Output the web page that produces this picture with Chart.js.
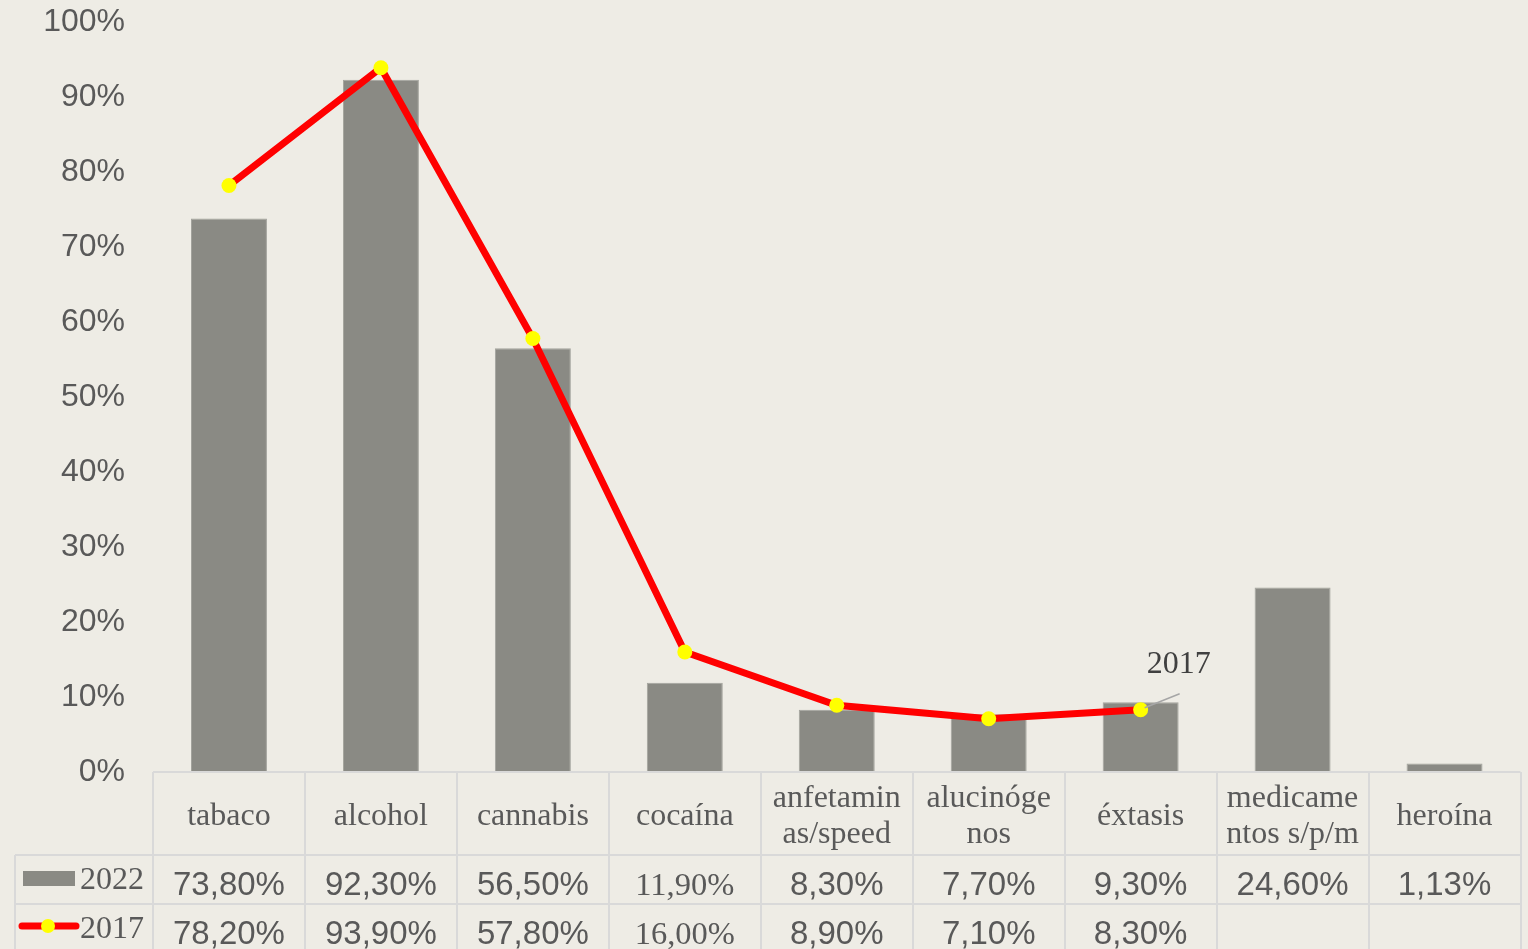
<!DOCTYPE html>
<html><head><meta charset="utf-8">
<script src="https://cdn.jsdelivr.net/npm/chart.js@4/dist/chart.umd.min.js"></script>
<style>html,body{margin:0;padding:0;background:#EEECE5;overflow:hidden}#wrap{width:1528px;height:949px}</style>
</head><body><div id="wrap"><canvas id="c" width="1528" height="949"></canvas></div>
<script>
const categories = [["tabaco"],["alcohol"],["cannabis"],["cocaína"],["anfetamin","as/speed"],["alucinóge","nos"],["éxtasis"],["medicame","ntos s/p/m"],["heroína"]];
const values2022 = [73.8, 92.3, 56.5, 11.9, 8.3, 7.7, 9.3, 24.6, 1.13];
const values2017 = [78.2, 93.9, 57.8, 16.0, 8.9, 7.1, 8.3, null, null];
const seriesNames = ["2022", "2017"];
const serifColumns = [3];           // columns whose table values appear in a serif face
const labelledPoint = 6;            // 2017 point that carries the series-name label
const yMin = 0, yMax = 100, yStep = 10;

const BG = '#EEECE5', TXT = '#595959', GRID = '#D9D9D9';
const SANS = '"Liberation Sans", Arial, sans-serif';
const SERIF = '"Liberation Serif", "Times New Roman", serif';

function fmt(v){ return v == null ? '' : v.toFixed(2).replace('.', ',') + '%'; }

const tablePlugin = {
  id: 'tablePlugin',
  beforeDraw(chart){
    const ctx = chart.ctx;
    ctx.save(); ctx.fillStyle = BG; ctx.fillRect(0,0,chart.width,chart.height); ctx.restore();
  },
  afterDraw(chart){
    const ctx = chart.ctx, xs = chart.scales.x, ca = chart.chartArea;
    const n = categories.length;
    const cw = (ca.right - ca.left) / n;
    const yTop = ca.bottom, y1 = yTop + 83, y2 = y1 + 49, yEnd = chart.height;
    const leftEdge = 15;
    ctx.save();
    ctx.strokeStyle = GRID; ctx.lineWidth = 2;
    ctx.beginPath();
    ctx.moveTo(ca.left, yTop); ctx.lineTo(ca.right, yTop);
    ctx.moveTo(leftEdge, y1); ctx.lineTo(ca.right, y1);
    ctx.moveTo(leftEdge, y2); ctx.lineTo(ca.right, y2);
    for (let i = 0; i <= n; i++) {
      const x = Math.round(ca.left + i * cw);
      ctx.moveTo(x, yTop); ctx.lineTo(x, yEnd);
    }
    ctx.moveTo(leftEdge, y1); ctx.lineTo(leftEdge, yEnd);
    ctx.stroke();

    // legend keys
    ctx.fillStyle = '#8A8A84';
    ctx.fillRect(23, 871, 52, 15);
    ctx.strokeStyle = '#FF0000'; ctx.lineWidth = 7; ctx.lineCap = 'round';
    ctx.beginPath(); ctx.moveTo(22, 926); ctx.lineTo(76, 926); ctx.stroke();
    ctx.fillStyle = '#FFFF00'; ctx.beginPath(); ctx.arc(48, 926, 7, 0, Math.PI*2); ctx.fill();
    ctx.fillStyle = TXT; ctx.textBaseline = 'middle'; ctx.textAlign = 'left';
    ctx.font = '32px ' + SERIF;
    ctx.fillText(seriesNames[0], 80, 881);
    ctx.fillText(seriesNames[1], 80, 930);

    // values
    ctx.textAlign = 'center';
    const rows = [[values2022, 886], [values2017, 935]];
    rows.forEach(([arr, ty]) => {
      arr.forEach((v, i) => {
        const x = xs.getPixelForValue(i);
        ctx.font = serifColumns.includes(i) ? '32.5px ' + SERIF : '33px ' + SANS;
        ctx.fillText(fmt(v), x, ty);
      });
    });

    // series label on line point
    const meta = chart.getDatasetMeta(0);
    const pt = meta.data[labelledPoint];
    if (pt) {
      ctx.strokeStyle = '#A6A6A6'; ctx.lineWidth = 1.5; ctx.lineCap = 'butt';
      ctx.beginPath(); ctx.moveTo(pt.x + 4, pt.y - 2); ctx.lineTo(pt.x + 39, pt.y - 16); ctx.stroke();
      ctx.fillStyle = '#404040'; ctx.font = '32px ' + SERIF; ctx.textAlign = 'left';
      ctx.fillText(seriesNames[1], pt.x + 6, pt.y - 45);
    }
    ctx.restore();
  }
};

new Chart(document.getElementById('c'), {
  type: 'bar',
  data: {
    labels: categories,
    datasets: [
      { type: 'line', label: seriesNames[1], data: values2017, order: 0,
        borderColor: '#FF0000', borderWidth: 7, tension: 0,
        pointRadius: 7.5, pointHoverRadius: 7.5, pointBackgroundColor: '#FFFF00', pointBorderWidth: 0, pointBorderColor: '#FFFF00' },
      { type: 'bar', label: seriesNames[0], data: values2022, order: 1,
        backgroundColor: '#8A8A84', borderColor: '#A3A39D', borderWidth: 1,
        barPercentage: 0.5, categoryPercentage: 1 }
    ]
  },
  options: {
    responsive: false, animation: false, devicePixelRatio: 1,
    layout: { padding: { top: 22, left: 0, right: 7, bottom: 0 } },
    plugins: { legend: { display: false }, tooltip: { enabled: false } },
    scales: {
      x: {
        grid: { display: false, drawTicks: false }, border: { display: false },
        afterFit(s){ s.height = 177; },
        ticks: { color: TXT, font: { family: SERIF, size: 32, lineHeight: 1.12 }, padding: 27, crossAlign: 'center', maxRotation: 0, autoSkip: false }
      },
      y: {
        min: yMin, max: yMax,
        grid: { display: false, drawTicks: false }, border: { display: false },
        afterFit(s){ s.width = 153; s.paddingTop = 0; s.paddingBottom = 0; },
        ticks: { stepSize: yStep, color: TXT, padding: 28, font: { family: SANS, size: 32 }, callback: v => v + '%' }
      }
    }
  },
  plugins: [tablePlugin]
});
</script></body></html>
